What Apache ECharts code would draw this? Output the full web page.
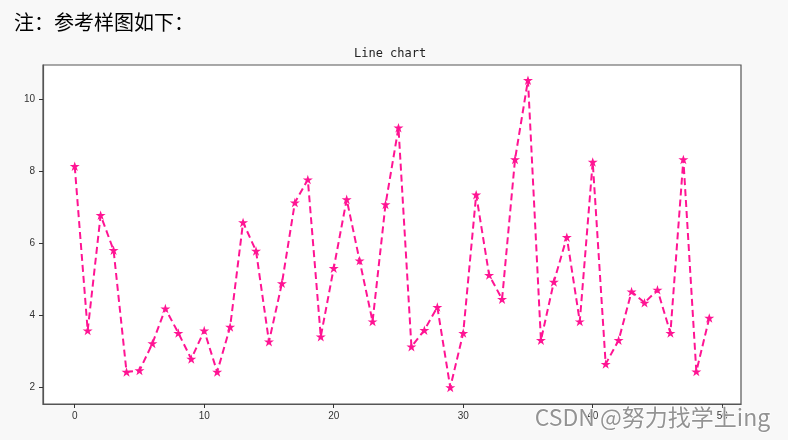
<!DOCTYPE html>
<html>
<head>
<meta charset="utf-8">
<script src="https://cdn.jsdelivr.net/npm/echarts@6/dist/echarts.min.js"></script>
<style>
html,body{margin:0;padding:0;background:#f8f8f8;}
#c{width:788px;height:440px;}
</style>
</head>
<body>
<div id="c"></div>
<script>
const noteText = '注：参考样图如下：';
const chartTitle = 'Line chart';
const watermark = 'CSDN @努力找学上ing';
const xTicks = [0, 10, 20, 30, 40, 50];
const yTicks = [2, 4, 6, 8, 10];
const values = [8.13, 3.57, 6.77, 5.80, 2.42, 2.46, 3.21, 4.18, 3.50, 2.78,
                3.57, 2.42, 3.67, 6.57, 5.78, 3.26, 4.88, 7.12, 7.76, 3.40,
                5.30, 7.21, 5.51, 3.82, 7.07, 9.20, 3.12, 3.58, 4.22, 1.99,
                3.50, 7.34, 5.11, 4.44, 8.32, 10.52, 3.30, 4.92, 6.16, 3.82,
                8.25, 2.64, 3.30, 4.65, 4.34, 4.70, 3.50, 8.32, 2.43, 3.92];

const starPath = 'path://M0 -1 L0.2245 -0.309 L0.951 -0.309 L0.3633 0.118 L0.588 0.809 L0 0.382 L-0.588 0.809 L-0.3633 0.118 L-0.951 -0.309 L-0.2245 -0.309 Z';

const chart = echarts.init(document.getElementById('c'), null, {renderer: 'canvas'});
const labelStyle = {fontFamily: 'Liberation Sans, Arial, sans-serif', fontSize: 10, color: '#333'};
chart.setOption({
  animation: false,
  backgroundColor: '#f8f8f8',
  title: [
    {text: noteText, left: 9, top: 7,
     textStyle: {fontFamily: 'Noto Sans CJK SC', fontSize: 20, fontWeight: 'normal', color: '#000'}},
    {text: chartTitle, left: 349, top: 43,
     textStyle: {fontFamily: 'DejaVu Sans Mono', fontSize: 12, fontWeight: 'normal', color: '#222'}}
  ],
  grid: {left: 43, top: 65, right: 47, bottom: 36, show: true,
         backgroundColor: '#fff', borderColor: '#555', borderWidth: 1.2},
  xAxis: {
    type: 'value', min: -2.45, max: 51.45,
    axisLine: {show: true, onZero: false, lineStyle: {color: '#555', width: 1.2}},
    splitLine: {show: false},
    axisTick: {show: true, length: 4, customValues: xTicks, lineStyle: {color: '#333'}},
    axisLabel: Object.assign({customValues: xTicks, margin: 7}, labelStyle)
  },
  yAxis: {
    type: 'value', min: 1.53, max: 10.94,
    axisLine: {show: true, onZero: false, lineStyle: {color: '#555', width: 1.2}},
    splitLine: {show: false},
    axisTick: {show: true, length: 4, customValues: yTicks, lineStyle: {color: '#333'}},
    axisLabel: Object.assign({customValues: yTicks, margin: 8}, labelStyle)
  },
  series: [{
    type: 'line',
    data: values.map((v, i) => [i, v]),
    symbol: starPath,
    symbolSize: 10,
    symbolKeepAspect: true,
    showSymbol: true,
    itemStyle: {color: '#ff1493'},
    lineStyle: {color: '#ff1493', width: 2, type: [7, 4]}
  }],
  graphic: [{
    type: 'text', left: 534, top: 405, z: 100,
    style: {text: watermark, font: '23px "Noto Sans CJK SC", sans-serif',
            fill: 'rgba(128,128,128,0.85)', stroke: 'rgba(255,255,255,0.9)', lineWidth: 1.5}
  }]
});
</script>
</body>
</html>
